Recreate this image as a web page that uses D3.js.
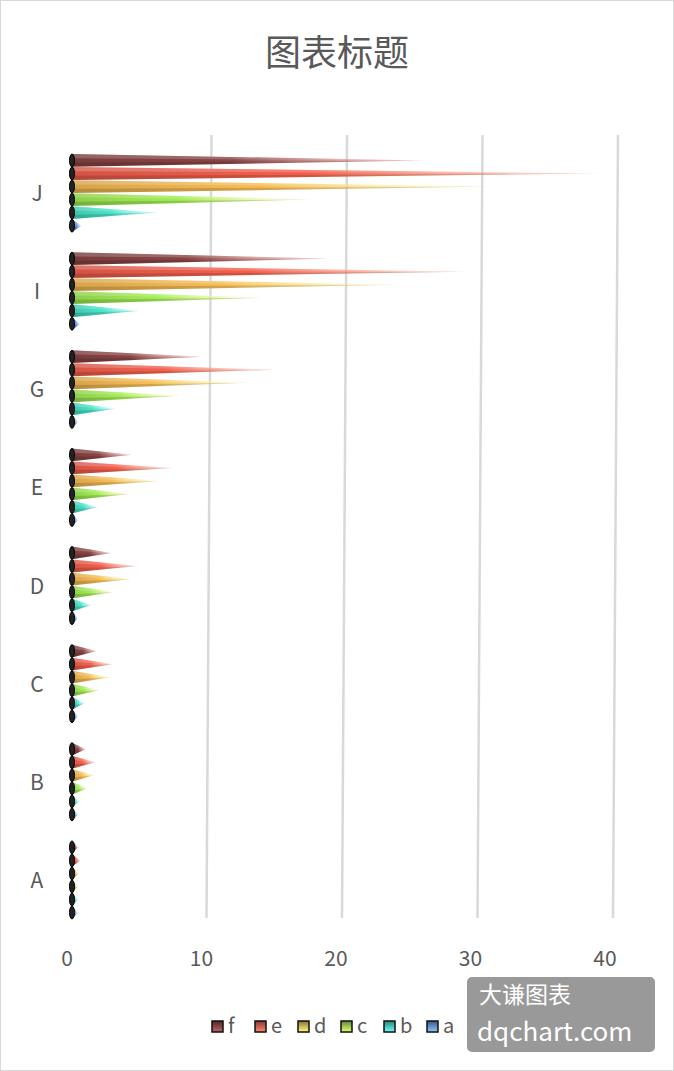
<!DOCTYPE html>
<html><head><meta charset="utf-8">
<script src="https://cdn.jsdelivr.net/npm/d3@7"></script>
<style>body{margin:0;background:#fff}svg{display:block}text{font-family:"Noto Sans CJK SC","Noto Sans",sans-serif}</style>
</head><body>
<svg id="c" width="674" height="1071"></svg>
<script>
const categories = ['A', 'B', 'C', 'D', 'E', 'G', 'I', 'J'];
const seriesNames = ['f', 'e', 'd', 'c', 'b', 'a'];
const colors = ['#8a4545', '#f5604e', '#f8bd55', '#a2ee55', '#48e4c8', '#628eee'];
const fVals = [0.3, 1.0, 1.8, 2.9, 4.4, 9.6, 19, 26];
const eVals = [0.6, 1.7, 3.0, 4.8, 7.4, 15, 29, 39];
const dVals = [0.5, 1.6, 2.8, 4.4, 6.5, 13, 24, 31];
const cVals = [0.4, 1.1, 2.0, 3.1, 4.3, 8, 14, 17.7];
const bVals = [0.2, 0.5, 0.9, 1.4, 1.9, 3.2, 5, 6.3];
const aVals = [0.1, 0.1, 0.2, 0.2, 0.3, 0.4, 0.6, 0.7];
const ticks = [0, 10, 20, 30, 40];
const values = [fVals, eVals, dVals, cVals, bVals, aVals];

const svg = d3.select('#c');
svg.append('rect').attr('x', 0.5).attr('y', 0.5).attr('width', 673).attr('height', 1070)
  .attr('fill', '#fff').attr('stroke', '#d9d9d9');

svg.append('text').attr('x', 337).attr('y', 66).attr('text-anchor', 'middle')
  .attr('font-size', 36).attr('fill', '#595959').text('图表标题');

const x = d3.scaleLinear().domain([0, 40]).range([72, 614]);
const y = d3.scaleBand().domain(categories.slice().reverse()).range([144, 929]).paddingInner(0.2).paddingOuter(0.1);
const ys = d3.scaleBand().domain(seriesNames).range([0, y.bandwidth()]).padding(0.02);

svg.append('g').selectAll('line').data(ticks.slice(1)).join('line')
  .attr('x1', d => x(d) + 4).attr('x2', d => x(d) - 1)
  .attr('y1', 135).attr('y2', 918)
  .attr('stroke', '#d9d9d9').attr('stroke-width', 2.5);

svg.append('g').selectAll('text').data(ticks).join('text')
  .attr('x', d => x(d) - 5 - d * 0.1).attr('y', 966).attr('text-anchor', 'middle')
  .attr('font-size', 21).attr('fill', '#595959').text(d => d);

svg.append('g').selectAll('text').data(categories).join('text')
  .attr('x', 37).attr('y', d => y(d) + y.bandwidth() / 2 + 8).attr('text-anchor', 'middle')
  .attr('font-size', 21).attr('fill', '#595959').text(d => d);

const defs = svg.append('defs');
colors.forEach((c, i) => {
  const g = defs.append('linearGradient').attr('id', 'g' + i).attr('x1', 0).attr('x2', 1).attr('y1', 0).attr('y2', 0);
  g.append('stop').attr('offset', 0).attr('stop-color', d3.color(c).darker(0.4));
  g.append('stop').attr('offset', 0.45).attr('stop-color', c);
  g.append('stop').attr('offset', 1).attr('stop-color', d3.color(c).brighter(1.5)).attr('stop-opacity', 0.3);
  const l = defs.append('linearGradient').attr('id', 'l' + i).attr('x1', 0).attr('x2', 0).attr('y1', 0).attr('y2', 1);
  l.append('stop').attr('offset', 0).attr('stop-color', d3.color(c).darker(1.5));
  l.append('stop').attr('offset', 1).attr('stop-color', d3.color(c).brighter(1));
});

const bars = [];
categories.forEach((cat, ci) => seriesNames.forEach((s, si) => bars.push({cat, s, si, v: values[si][ci]})));

const gb = svg.append('g');
bars.forEach(b => {
  const cy = y(b.cat) + ys(b.s) + ys.bandwidth() / 2;
  const h = ys.bandwidth();
  const x0 = x(0), x1 = Math.max(x(b.v), x0 + 6);
  gb.append('path').attr('d', `M${x0},${cy - h / 2}L${x1},${cy}L${x0},${cy + h / 2}Z`)
    .attr('fill', `url(#g${b.si})`);
  gb.append('path').attr('d', `M${x0},${cy - h / 2}L${x1},${cy}L${x0},${cy - h / 6}Z`)
    .attr('fill', '#fff').attr('opacity', 0.2);
  gb.append('path').attr('d', `M${x0},${cy + h / 6}L${x1},${cy}L${x0},${cy + h / 2}Z`)
    .attr('fill', '#000').attr('opacity', 0.15);
  gb.append('ellipse').attr('cx', x0).attr('cy', cy).attr('rx', 2.5).attr('ry', h / 2)
    .attr('fill', '#222').attr('stroke', '#000').attr('stroke-width', 1);
});

const lg = svg.append('g').attr('transform', 'translate(212,1033)');
seriesNames.forEach((s, i) => {
  const g = lg.append('g').attr('transform', `translate(${i * 43},0)`);
  g.append('rect').attr('x', 0).attr('y', -12).attr('width', 11).attr('height', 11)
    .attr('fill', `url(#l${i})`).attr('stroke', '#111').attr('stroke-width', 1.5);
  g.append('text').attr('x', 16).attr('y', 0).attr('font-size', 20).attr('fill', '#595959').text(s);
});

const wm = svg.append('g');
wm.append('rect').attr('x', 467).attr('y', 977).attr('width', 188).attr('height', 75).attr('rx', 5).attr('fill', '#999');
wm.append('text').attr('x', 479).attr('y', 1003).attr('font-size', 23).attr('fill', '#fff').text('大谦图表');
wm.append('text').attr('x', 477).attr('y', 1041).attr('font-size', 26).attr('fill', '#fff').text('dqchart.com');
</script>
</body></html>
